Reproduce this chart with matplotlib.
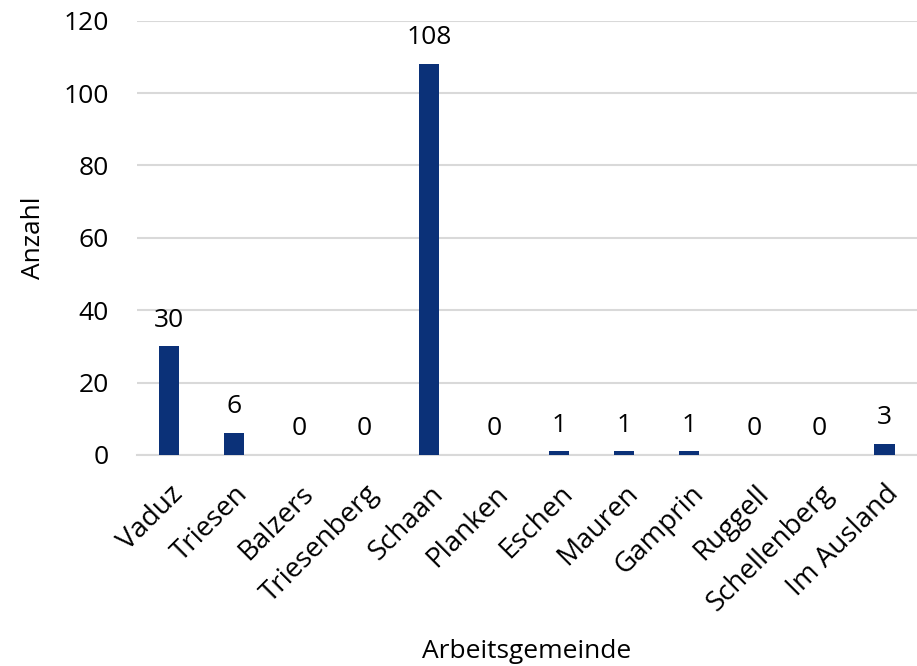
import matplotlib
matplotlib.use("Agg")
import matplotlib.pyplot as plt

categories = ["Vaduz", "Triesen", "Balzers", "Triesenberg", "Schaan", "Planken",
              "Eschen", "Mauren", "Gamprin", "Ruggell", "Schellenberg", "Im Ausland"]
values = [30, 6, 0, 0, 108, 0, 1, 1, 1, 0, 0, 3]
yticks = [0, 20, 40, 60, 80, 100, 120]

plt.rcParams['font.family'] = ['Open Sans', 'DejaVu Sans']
FS = 19

fig = plt.figure(figsize=(9.17, 6.66), dpi=100)
ax = fig.add_axes([0.149, 0.317, 0.851, 0.652])

x = list(range(len(categories)))
ax.bar(x, values, width=0.31, color="#0B3178", zorder=3)
for xi, v in zip(x, values):
    ax.text(xi, v + 3.8, str(v), ha="center", va="bottom", fontsize=FS, color="black")

ax.set_xlim(-0.5, len(categories) - 0.5)
ax.set_ylim(0, 120)
ax.set_yticks(yticks)
ax.set_yticklabels([str(t) for t in yticks], fontsize=FS)
ax.set_xticks(x)
ax.set_xticklabels(categories, rotation=45, ha="right", rotation_mode="anchor", fontsize=20)
ax.tick_params(axis="y", length=0, pad=20)
ax.tick_params(axis="x", length=0, pad=18)
ax.grid(axis="y", color="#D9D9D9", linewidth=1.5, zorder=0)
for s in ["top", "right", "left"]:
    ax.spines[s].set_visible(False)
ax.spines["bottom"].set_color("#D9D9D9")
ax.spines["bottom"].set_linewidth(1.5)

fig.text(33 / 917, 1 - 238 / 666, "Anzahl", rotation=90, ha="center", va="center", fontsize=FS)
fig.text(527 / 917, 1 - 651 / 666, "Arbeitsgemeinde", ha="center", va="center", fontsize=FS)

fig.savefig("out.png", dpi=100)
